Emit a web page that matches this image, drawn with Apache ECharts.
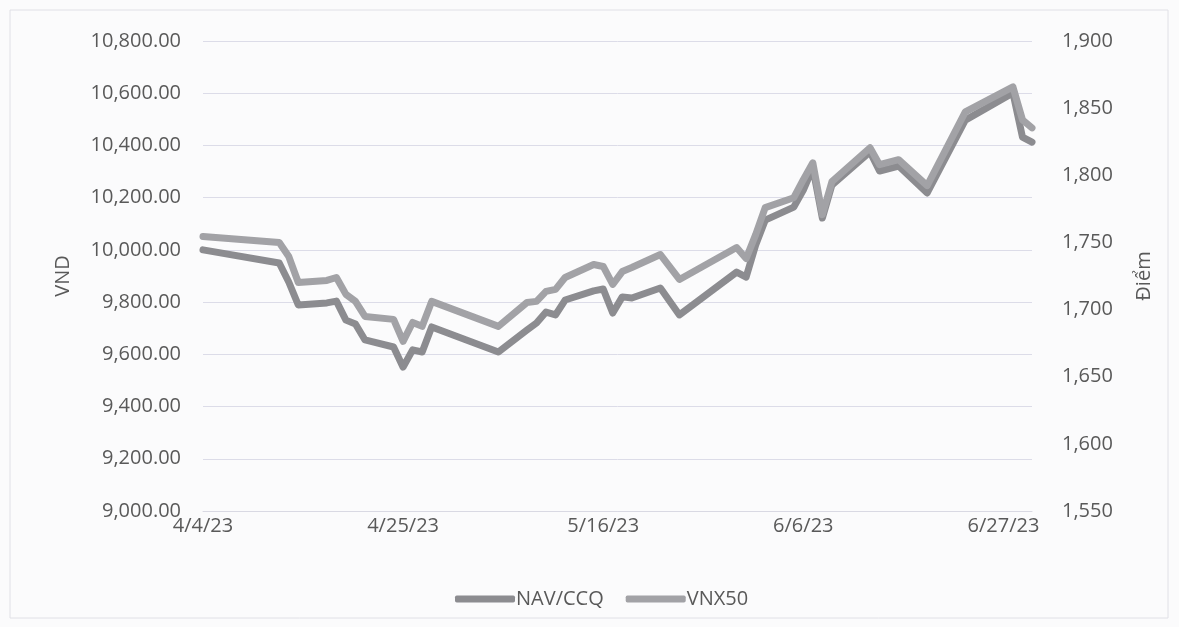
<!DOCTYPE html>
<html>
<head>
<meta charset="utf-8">
<script src="https://cdn.jsdelivr.net/npm/echarts@6/dist/echarts.min.js"></script>
<style>
html,body{margin:0;padding:0;background:#fbfbfc;}
#c{width:1179px;height:627px;}
</style>
</head>
<body>
<div id="c"></div>
<script>
const dates = ['4/4/23','4/12/23','4/13/23','4/14/23','4/17/23','4/18/23','4/19/23','4/20/23','4/21/23','4/24/23','4/25/23','4/26/23','4/27/23','4/28/23','5/5/23','5/8/23','5/9/23','5/10/23','5/11/23','5/12/23','5/15/23','5/16/23','5/17/23','5/18/23','5/19/23','5/22/23','5/24/23','5/30/23','5/31/23','6/1/23','6/2/23','6/5/23','6/6/23','6/7/23','6/8/23','6/9/23','6/13/23','6/14/23','6/16/23','6/19/23','6/23/23','6/28/23','6/29/23','6/30/23'];
const navCCQ = [10000,9950,9877,9789,9797,9804,9731,9716,9655,9628,9551,9617,9609,9705,9609,9693,9720,9762,9751,9808,9843,9850,9758,9820,9816,9854,9751,9915,9896,10019,10114,10164,10229,10314,10122,10248,10375,10302,10321,10218,10497,10601,10432,10413];
const vnx50 = [1754.4,1749.9,1739.5,1720.2,1721.7,1723.9,1711.3,1706.1,1694.9,1692.7,1676.3,1690.4,1687.5,1706.1,1687.5,1705.3,1706.1,1713.5,1715.0,1723.9,1733.6,1732.1,1718.7,1728.3,1731.3,1741.0,1722.4,1746.2,1738.0,1755.8,1775.9,1783.3,1796.7,1809.3,1770.7,1795.2,1820.5,1807.9,1811.6,1792.3,1847.2,1865.8,1841.3,1835.3];
const xStart = '4/4/23', xEnd = '6/30/23';
const seriesNames = ['NAV/CCQ','VNX50'];
const leftName = 'VND', rightName = 'Điểm';

function toUTC(s){const p=s.split('/').map(Number);return Date.UTC(2000+p[2],p[0]-1,p[1]);}
const base = toUTC(xStart);
function dayIdx(s){return Math.round((toUTC(s)-base)/86400000);}
function idxToLabel(v){const d=new Date(base+v*86400000);return (d.getUTCMonth()+1)+'/'+d.getUTCDate()+'/'+String(d.getUTCFullYear()).slice(2);}

const xs = dates.map(dayIdx);
const navData = xs.map((x,i)=>[x,navCCQ[i]]);
const vnxData = xs.map((x,i)=>[x,vnx50[i]]);

const txt = '#595959';
const font = 'Open Sans';
const chart = echarts.init(document.getElementById('c'));
chart.setOption({
  backgroundColor:'#fbfbfc',
  animation:false,
  textStyle:{fontFamily:font},
  graphic:[{type:'rect',shape:{x:10,y:10,width:1158,height:608},style:{fill:'none',stroke:'#e0e0e6',lineWidth:1}}],
  grid:{left:203,right:147,top:41,bottom:116},
  legend:{
    left:450, top:584,
    itemWidth:60, itemHeight:7, itemGap:22,
    icon:'roundRect',
    textStyle:{color:txt,fontSize:20,fontFamily:font,padding:[0,0,0,-4]},
    data:seriesNames
  },
  xAxis:{
    type:'value', min:0, max:dayIdx(xEnd), interval:21,
    axisLine:{show:true,lineStyle:{color:'#d9d9e3',width:1}},
    axisTick:{show:false},
    splitLine:{show:false},
    axisLabel:{color:txt,fontSize:20,fontFamily:font,margin:5,showMaxLabel:false,formatter:v=>idxToLabel(v)}
  },
  yAxis:[
    {type:'value',min:9000,max:10800,interval:200,position:'left',
     name:leftName,nameLocation:'middle',nameGap:130,
     nameTextStyle:{color:txt,fontSize:20,fontFamily:font},
     axisLine:{show:false},axisTick:{show:false},
     splitLine:{lineStyle:{color:'#dcdce8',width:1}},
     axisLabel:{color:txt,fontSize:20,fontFamily:font,margin:22,
       formatter:v=>v.toLocaleString('en-US',{minimumFractionDigits:2,maximumFractionDigits:2})}},
    {type:'value',min:1550,max:1900,interval:50,position:'right',
     name:rightName,nameLocation:'middle',nameGap:102,
     nameTextStyle:{color:txt,fontSize:20,fontFamily:font},
     axisLine:{show:false},axisTick:{show:false},
     splitLine:{show:false},
     axisLabel:{color:txt,fontSize:20,fontFamily:font,margin:30,
       formatter:v=>v.toLocaleString('en-US')}}
  ],
  series:[
    {name:seriesNames[0],type:'line',yAxisIndex:0,data:navData,showSymbol:false,symbol:'none',
     lineStyle:{color:'#8c8c90',width:7,cap:'round',join:'round'},itemStyle:{color:'#8c8c90'}},
    {name:seriesNames[1],type:'line',yAxisIndex:1,data:vnxData,showSymbol:false,symbol:'none',
     lineStyle:{color:'#a2a2a6',width:7,cap:'round',join:'round'},itemStyle:{color:'#a2a2a6'}}
  ]
});
</script>
</body>
</html>
